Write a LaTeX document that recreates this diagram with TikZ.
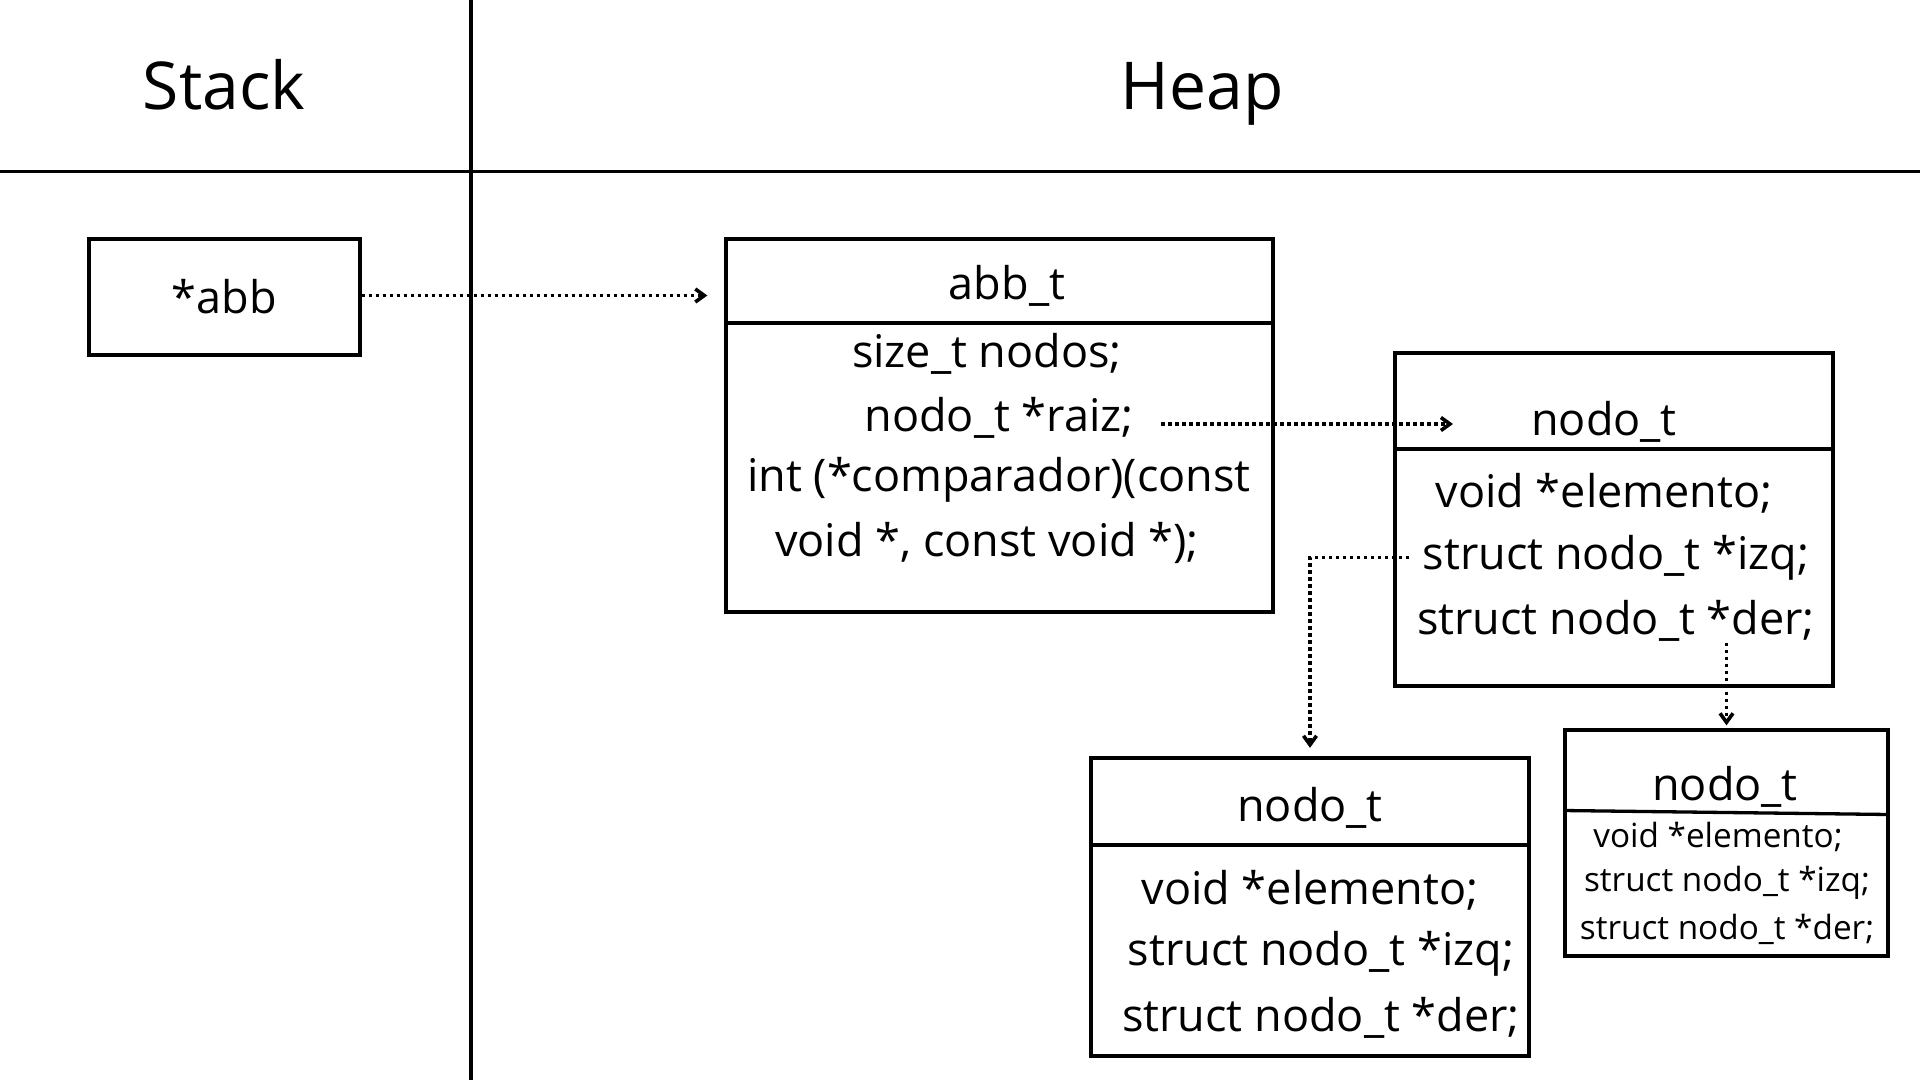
\documentclass[tikz,border=0pt]{standalone}
\usepackage{fontspec}
\setmainfont{Open Sans}
\usetikzlibrary{arrows.meta}

\begin{document}
\begin{tikzpicture}[x=1pt, y=-1pt, line width=3.3pt,
		caja/.style={draw, rectangle, inner sep=0pt},
		texto/.style={inner sep=0pt, font=\fontsize{45}{62}\selectfont},
		chico/.style={inner sep=0pt, font=\fontsize{33.3}{45}\selectfont},
		titulo/.style={inner sep=0pt, anchor=base, font=\fontsize{66}{80}\selectfont},
		puntero/.style={line width=3.6pt, dash pattern=on 3.5pt off 3.5pt, -{Straight Barb[length=9pt,width=13pt]}}]
	\useasboundingbox (0,0) rectangle (1920,1080);
	
	% Division entre Stack y Heap
	\draw (471,0) -- (471,1080);
	\draw (0,171.5) -- (1920,171.5);
	\node[titulo] (stack) at (224,109) {Stack};
	\node[titulo] (heap) at (1202,109) {Heap};
	
	% Puntero en el stack
	\node[caja, texto, minimum width=271pt, minimum height=116pt] (pila) at (224.5,297) {*abb};
	
	% Estructura abb_t
	\node[caja, minimum width=547pt, minimum height=373pt] (abbT) at (999.5,425.5) {};
	\draw (abbT.west |- 0,323) -- (abbT.east |- 0,323);
	\node[texto] (abbTitulo) at (1007,285.5) {abb\_t};
	\node[texto] (abbNodos) at (987,353.5) {size\_t nodos;};
	\node[texto] (abbRaiz) at (999,417.5) {nodo\_t *raiz;};
	\node[texto] (abbComp) at (999,479.5) {int (*comparador)(const};
	\node[texto] (abbVoid) at (987,542.5) {void *, const void *);};
	
	% Nodo raiz
	\node[caja, minimum width=438pt, minimum height=333pt] (nodoRaiz) at (1614,519.5) {};
	\draw (nodoRaiz.west |- 0,449) -- (nodoRaiz.east |- 0,449);
	\node[texto] (raizTitulo) at (1604,421.5) {nodo\_t};
	\node[texto] (raizElem) at (1604,493.5) {void *elemento;};
	\node[texto] (raizIzq) at (1616,557.5) {struct nodo\_t *izq;};
	\node[texto] (raizDer) at (1616,620.5) {struct nodo\_t *der;};
	
	% Hijo izquierdo
	\node[caja, minimum width=438pt, minimum height=298pt] (nodoIzq) at (1310,907) {};
	\draw (nodoIzq.west |- 0,845) -- (nodoIzq.east |- 0,845);
	\node[texto] (izqTitulo) at (1310,807.5) {nodo\_t};
	\node[texto] (izqElem) at (1310,890.5) {void *elemento;};
	\node[texto] (izqIzq) at (1321,953.5) {struct nodo\_t *izq;};
	\node[texto] (izqDer) at (1321,1017.5) {struct nodo\_t *der;};
	
	% Hijo derecho (letra chica)
	\node[caja, minimum width=323pt, minimum height=226pt] (nodoDer) at (1726.5,843) {};
	\draw (nodoDer.west |- 0,810.5) -- (nodoDer.east |- 0,814.5);
	\node[texto] (derTitulo) at (1725,786.5) {nodo\_t};
	\node[chico] (derElem) at (1718,837) {void *elemento;};
	\node[chico] (derIzq) at (1727,883) {struct nodo\_t *izq;};
	\node[chico] (derDer) at (1727,929) {struct nodo\_t *der;};
	
	% Punteros
	\coordinate (finRaiz) at (1453,424);
	\draw[puntero, shorten >=17pt] ([yshift=1.5pt]pila.east) -- ([yshift=1.5pt]pila.east -| abbT.west);
	\draw[puntero, shorten <=26pt] (abbRaiz.east |- finRaiz) -- (finRaiz);
	\draw[puntero, shorten >=8.5pt] ([xshift=-12pt]raizIzq.west) -| (nodoIzq.north);
	\draw[puntero, shorten >=3pt] (raizDer.south -| nodoDer.north) -- (nodoDer.north);
	
\end{tikzpicture}
\end{document}
